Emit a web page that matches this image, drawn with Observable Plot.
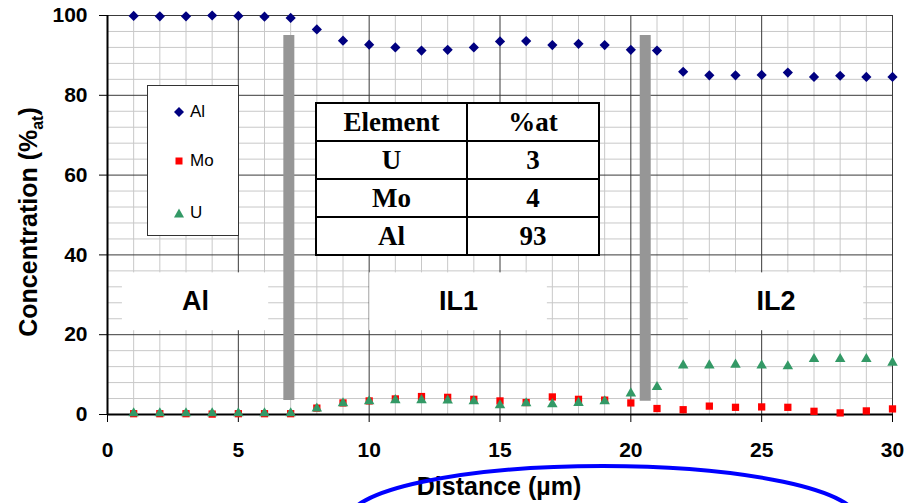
<!DOCTYPE html>
<html>
<head>
<meta charset="utf-8">
<script src="https://cdn.jsdelivr.net/npm/d3@7"></script>
<script src="https://cdn.jsdelivr.net/npm/@observablehq/plot@0.6"></script>
<style>
  html, body { margin: 0; padding: 0; background: #fff; }
  #wrap { position: relative; width: 919px; height: 503px; overflow: hidden; background: #fff; }
  #legend { position: absolute; left: 147px; top: 85px; width: 92px; height: 151px; border: 1px solid #333; background: #fff; box-sizing: border-box; font: 17px "Liberation Sans", Arial, sans-serif; color: #000; }
  #legend .item { position: absolute; left: 24px; height: 20px; display: flex; align-items: center; }
  #legend .item svg { width: 14px; height: 14px; margin-right: 4px; }
  #tbl { position: absolute; left: 315px; top: 102px; border-collapse: collapse; background: #fff; font: bold 27px "Liberation Serif", "Times New Roman", serif; color: #000; }
  #tbl td { border: 2px solid #000; text-align: center; height: 36px; padding: 0; line-height: 36px; }
  #overlay { position: absolute; left: 0; top: 0; pointer-events: none; }
</style>
</head>
<body>
<div id="wrap"></div>
<script>
// ---- data ----
const distance = [1,2,3,4,5,6,7,8,9,10,11,12,13,14,15,16,17,18,19,20,21,22,23,24,25,26,27,28,29,30];
const alValues = [99.9,99.8,99.8,100,99.9,99.7,99.4,96.5,93.7,92.7,92.0,91.2,91.4,92.0,93.5,93.6,92.6,92.9,92.6,91.4,91.2,85.9,85.0,85.0,85.1,85.7,84.6,84.9,84.6,84.6];
const moValues = [0.2,0.2,0.2,0.1,0.2,0.2,0.2,1.6,2.9,3.4,3.9,4.5,4.3,3.8,3.4,3.0,4.4,3.8,3.6,2.9,1.5,1.2,2.1,1.8,1.9,1.8,0.8,0.4,0.9,1.4];
const uValues  = [0.3,0.3,0.3,0.3,0.3,0.3,0.3,1.5,2.8,3.3,3.6,3.6,3.5,3.3,2.3,2.8,2.6,2.9,3.3,5.3,6.9,12.3,12.3,12.5,12.3,12.1,13.9,13.9,13.9,13.0];
const seriesNames = ["Al","Mo","U"];
const xTicks = [0,5,10,15,20,25,30];
const yTicks = [0,20,40,60,80,100];
const xMinor = [1,2,3,4,6,7,8,9,11,12,13,14,16,17,18,19,21,22,23,24,26,27,28,29];
const xMajor = [5,10,15,20,25,30];
const yMinor = [4,8,12,16,24,28,32,36,44,48,52,56,64,68,72,76,84,88,92,96];
const yMajor = [20,40,60,80,100];
// interfaces between layers (µm), with bar extent in %at
const interfaces = [{x: 6.93, bottom: 3.5, top: 95}, {x: 20.55, bottom: 3.3, top: 95}];
// region labels (µm extents)
const regions = [
  {name: "Al",  x1: 0.57,  x2: 6.16},
  {name: "IL1", x1: 10.02, x2: 16.81},
  {name: "IL2", x1: 22.2,  x2: 28.9}
];
const regionBand = {y1: 21, y2: 35.5};
const tableHeader = ["Element", "%at"];
const tableElements = ["U", "Mo", "Al"];
const tablePercents = [3, 4, 93];

const colors = {Al: "#000080", Mo: "#ff0000", U: "#339966"};
const symbols = {Al: "diamond2", Mo: "square", U: "triangle"};

const rows = (vals, name) => distance.map((d, i) => ({x: d, y: vals[i], s: name}));
const alData = rows(alValues, "Al");
const moData = rows(moValues, "Mo");
const uData = rows(uValues, "U");

const chart = Plot.plot({
  width: 919,
  height: 503,
  marginLeft: 107,
  marginRight: 27,
  marginTop: 15,
  marginBottom: 89,
  style: {fontFamily: "'Liberation Sans', Arial, sans-serif", fontSize: "21px", fontWeight: "bold", color: "#000", background: "white", overflow: "visible"},
  x: {domain: [0, 30], ticks: xTicks, tickSize: 8, tickPadding: 20, label: null},
  y: {domain: [0, 100], ticks: yTicks, tickSize: 8, tickPadding: 12, label: null},
  marks: [
    Plot.ruleX(xMinor, {stroke: "#c8c8c8", strokeWidth: 1}),
    Plot.ruleY(yMinor, {stroke: "#c8c8c8", strokeWidth: 1}),
    Plot.ruleX(xMajor, {stroke: "#3a3a3a", strokeWidth: 1}),
    Plot.ruleY(yMajor, {stroke: "#3a3a3a", strokeWidth: 1}),
    Plot.rect(regions, {x1: "x1", x2: "x2", y1: () => regionBand.y1, y2: () => regionBand.y2, fill: "white"}),
    Plot.text(regions, {x: d => (d.x1 + d.x2) / 2, y: () => (regionBand.y1 + regionBand.y2) / 2, text: "name", fontSize: 27, fontWeight: "bold", fill: "#000"}),
    Plot.ruleX(interfaces, {x: "x", y1: "bottom", y2: "top", stroke: "#969696", strokeWidth: 11}),
    Plot.ruleY([0], {stroke: "#000", strokeWidth: 2}),
    Plot.ruleX([0], {stroke: "#000", strokeWidth: 2}),
    Plot.dot(alData, {x: "x", y: "y", symbol: () => symbols.Al, r: 4.6, fill: colors.Al}),
    Plot.dot(moData, {x: "x", y: "y", symbol: () => symbols.Mo, r: 4.1, fill: colors.Mo}),
    Plot.dot(uData, {x: "x", y: "y", symbol: () => symbols.U, r: 3.9, fill: colors.U})
  ]
});

const wrap = document.getElementById("wrap");
wrap.appendChild(chart);

// axis titles
const svg = d3.select(chart);
const yt = svg.append("text")
  .attr("transform", "translate(37,222) rotate(-90)")
  .attr("text-anchor", "middle")
  .style("font", "bold 25px 'Liberation Sans', Arial, sans-serif")
  .attr("fill", "#000");
yt.append("tspan").text("Concentration (%");
yt.append("tspan").text("at").style("font-size", "16px").attr("dy", 6);
yt.append("tspan").text(")").attr("dy", -6);

svg.append("text")
  .attr("x", 499).attr("y", 495)
  .attr("text-anchor", "middle")
  .style("font", "bold 25px 'Liberation Sans', Arial, sans-serif")
  .attr("fill", "#000")
  .text("Distance (µm)");

// legend
const legend = document.createElement("div");
legend.id = "legend";
const markerSvg = {
  Al: '<svg viewBox="0 0 14 14"><polygon points="7,2 12,7 7,12 2,7" fill="' + colors.Al + '"/></svg>',
  Mo: '<svg viewBox="0 0 14 14"><rect x="3.5" y="3.5" width="7" height="7" fill="' + colors.Mo + '"/></svg>',
  U:  '<svg viewBox="0 0 14 14"><polygon points="7,2.5 12,11.5 2,11.5" fill="' + colors.U + '"/></svg>'
};
const legendTops = [16, 65, 117];
seriesNames.forEach((n, i) => {
  const it = document.createElement("div");
  it.className = "item";
  it.style.top = legendTops[i] + "px";
  it.innerHTML = markerSvg[n] + "<span>" + n + "</span>";
  legend.appendChild(it);
});
wrap.appendChild(legend);

// table
const tbl = document.createElement("table");
tbl.id = "tbl";
const mkRow = (a, b) => {
  const tr = document.createElement("tr");
  const td1 = document.createElement("td"); td1.textContent = a; td1.style.width = "149px";
  const td2 = document.createElement("td"); td2.textContent = b; td2.style.width = "130px";
  tr.appendChild(td1); tr.appendChild(td2);
  return tr;
};
tbl.appendChild(mkRow(tableHeader[0], tableHeader[1]));
tableElements.forEach((e, i) => tbl.appendChild(mkRow(e, tablePercents[i])));
wrap.appendChild(tbl);

// hand-drawn blue annotation ellipse
const ov = d3.select(wrap).append("svg")
  .attr("id", "overlay").attr("width", 919).attr("height", 503);
ov.append("ellipse")
  .attr("cx", 603).attr("cy", 520).attr("rx", 255).attr("ry", 54)
  .attr("fill", "none").attr("stroke", "#0000ff").attr("stroke-width", 4);
</script>
</body>
</html>
